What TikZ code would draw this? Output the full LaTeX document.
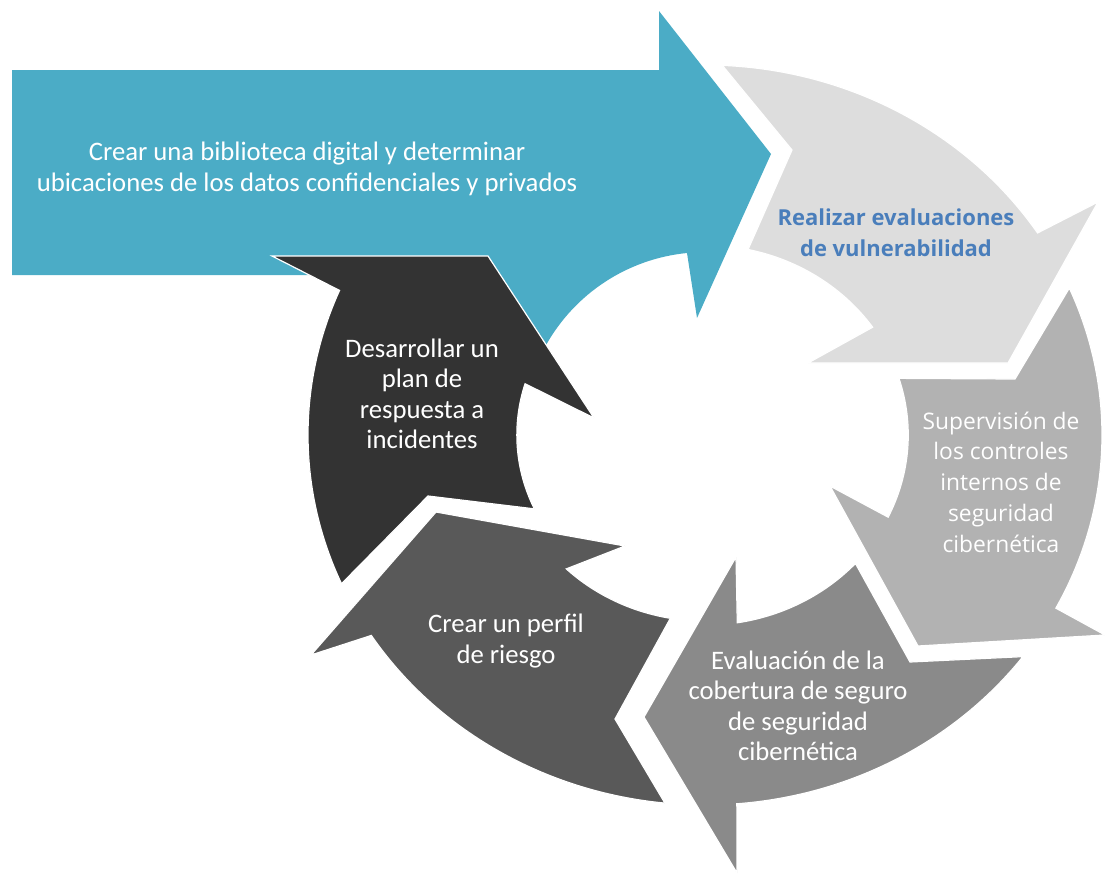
\documentclass[tikz,border=0pt]{standalone}
\usepackage{fontspec}
\setmainfont{Carlito}
\newfontfamily\osans{Open Sans}
\definecolor{tealc}{HTML}{4BACC6}
\definecolor{lgc}{HTML}{DDDDDD}
\definecolor{mgc}{HTML}{B2B2B2}
\definecolor{gc}{HTML}{8A8A8A}
\definecolor{dgc}{HTML}{595959}
\definecolor{dkc}{HTML}{333333}
\definecolor{bluet}{HTML}{4A7EBB}
\begin{document}
\begin{tikzpicture}[x=1pt,y=1pt,
  seg/.style={draw=white, line width=1.2pt, line join=miter},
  txt/.style={inner sep=0pt, align=center, text=white, font=\fontsize{26.7}{30.5}\selectfont},
  ostxt/.style={inner sep=0pt, align=center, text=white, font=\osans\fontsize{22.8}{30.7}\selectfont},
  osbold/.style={inner sep=0pt, align=center, text=bluet, font=\osans\bfseries\fontsize{22}{31}\selectfont}]
\useasboundingbox (0,0) rectangle (1105,-873);

% teal straight arrow
\path[fill=tealc] (12,-70) -- (659,-70) -- (659,-11) -- (771,-154) -- (697,-318) -- (687,-253)
  arc[start angle=95.6, end angle=151, radius=182] -- (420,-300) -- (309,-275) -- (12,-275) -- cycle;

% ring points (pixels)
\coordinate (lg-ow) at (1098,-202);
\coordinate (lg-tip) at (1008,-363);
\coordinate (lg-iw) at (808,-363);
\coordinate (lg-n) at (792,-150);
\coordinate (mg-ow) at (1105,-635);
\coordinate (mg-tip) at (918,-646);
\coordinate (mg-iw) at (830,-486);
\coordinate (mg-n) at (1015,-379);
\coordinate (g-ow) at (737,-873);
\coordinate (g-tip) at (644,-717);
\coordinate (g-iw) at (736,-557);
\coordinate (g-n) at (910,-662);
\coordinate (dg-ow) at (311,-655);
\coordinate (dg-tip) at (436,-512);
\coordinate (dg-iw) at (625,-546);
\coordinate (dg-n) at (615,-719);
\coordinate (dk-ow) at (272,-256);
\coordinate (dk-tip) at (488,-256);
\coordinate (dk-iw) at (594,-418);
\coordinate (dk-n) at (428,-496);

\begin{scope}[shift={(705,-435)}, x=397pt, y=370pt]
  \path[fill=lgc, seg] (87.5:1) arc[start angle=87.5, end angle=33.1, radius=1]
    -- (lg-ow) -- (lg-tip) -- (lg-iw) -- (34.6:0.513) arc[start angle=34.6, end angle=77.8, radius=0.513]
    -- (lg-n) -- cycle;
  \path[fill=mgc, seg] (23.4:1) arc[start angle=23.4, end angle=-27.9, radius=1]
    -- (mg-ow) -- (mg-tip) -- (mg-iw) -- (-25.7:0.512) arc[start angle=-25.7, end angle=17.4, radius=0.512]
    -- (mg-n) -- cycle;
  \path[fill=gc, seg] (-36.8:1) arc[start angle=-36.8, end angle=-85.4, radius=1]
    -- (g-ow) -- (g-tip) -- (g-iw) -- (-80.9:0.514) arc[start angle=-80.9, end angle=-42.5, radius=0.514]
    -- (g-n) -- cycle;
  \path[fill=dgc, seg] (-95.8:1) arc[start angle=-95.8, end angle=-147.2, radius=1]
    -- (dg-ow) -- (dg-tip) -- (dg-iw) -- (-134:0.503) arc[start angle=-134, end angle=-100, radius=0.503]
    -- (dg-n) -- cycle;
  \path[fill=dkc, seg] (-156.3:1) arc[start angle=-156.3, end angle=-203, radius=1]
    -- (dk-ow) -- (dk-tip) -- (dk-iw) -- (163:0.474) arc[start angle=163, end angle=204.9, radius=0.474]
    -- (dk-n) -- cycle;
\end{scope}

\node[txt] (t0) at (307,-169) {Crear una biblioteca digital y determinar\\ubicaciones de los datos confidenciales y privados};
\node[osbold] (t1) at (896,-233) {Realizar evaluaciones\\de vulnerabilidad};
\node[ostxt] (t2) at (1001,-482) {Supervisión de\\los controles\\internos de\\seguridad\\cibernética};
\node[txt] (t3) at (798,-706) {Evaluación de la\\cobertura de seguro\\de seguridad\\cibernética};
\node[txt] (t4) at (506,-641) {Crear un perfil\\de riesgo};
\node[txt] (t5) at (422,-394) {Desarrollar un\\plan de\\respuesta a\\incidentes};
\end{tikzpicture}
\end{document}
